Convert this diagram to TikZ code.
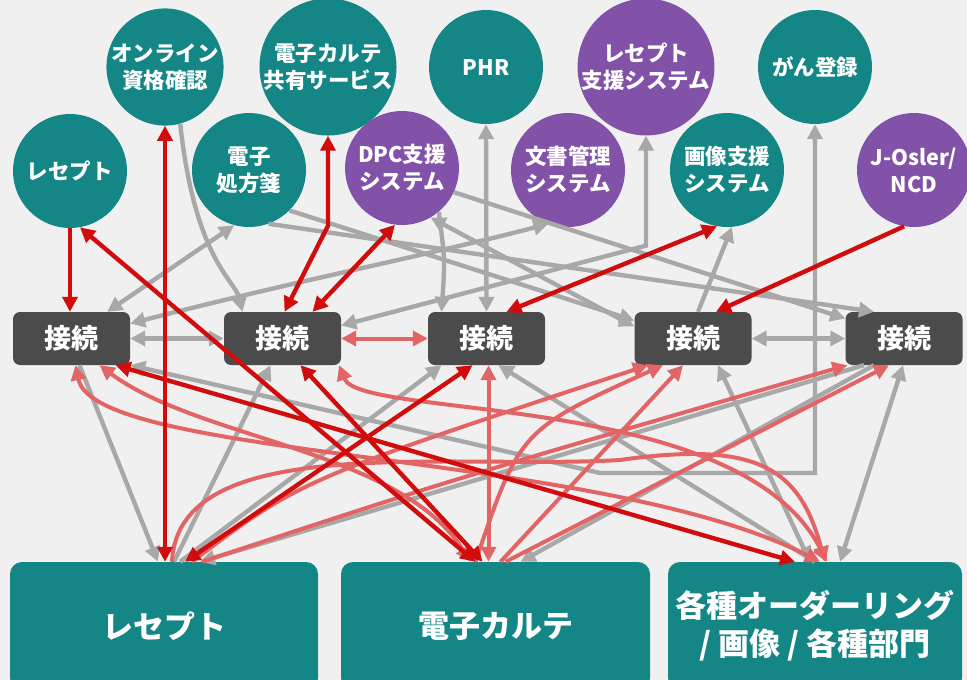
\documentclass[tikz,border=0pt]{standalone}
\usepackage{fontspec}
\setmainfont{Noto Sans CJK JP}
\usetikzlibrary{arrows.meta}
\definecolor{tealc}{RGB}{20,134,134}
\definecolor{purc}{RGB}{130,82,168}
\definecolor{boxc}{RGB}{75,75,75}
\definecolor{bgc}{RGB}{240,240,240}
\definecolor{grayl}{RGB}{168,168,168}
\definecolor{redd}{RGB}{208,12,12}
\definecolor{redl}{RGB}{226,100,100}
\tikzset{
  circ/.style={circle, minimum size=114pt, inner sep=0pt, text=white,
    font=\bfseries\fontsize{21.5}{27}\selectfont, align=center},
  tcirc/.style={circ, fill=tealc},
  pcirc/.style={circ, fill=purc},
  conn/.style={rectangle, rounded corners=7pt, fill=boxc, minimum width=117pt,
    minimum height=53pt, inner sep=0pt, text=white, font=\bfseries\fontsize{27}{30}\selectfont},
  bigbox/.style={rectangle, rounded corners=12pt, fill=tealc, minimum height=128pt,
    inner sep=0pt, text=white, font=\bfseries\fontsize{31}{38}\selectfont, align=center},
  gl/.style={draw=grayl, line width=4.4pt},
  rl/.style={draw=redd, line width=4.4pt},
  ll/.style={draw=redl, line width=4pt},
  >={Triangle[length=15pt,width=15pt]}
}
\begin{document}
\begin{tikzpicture}[x=1pt,y=-1pt]
\useasboundingbox (0,0) rectangle (967,680);
\clip (0,0) rectangle (967,680);
\fill[bgc] (0,0) rectangle (967,680);

% circles
\node[tcirc] (c-rez) at (70,171) {レセプト};
\node[tcirc] (c-onl) at (165,67) {オンライン\\資格確認};
\node[tcirc] (c-rx)  at (249,170) {電子\\処方箋};
\node[tcirc] (c-shr) at (328,67) {電子カルテ\\共有サービス};
\node[pcirc] (c-dpc) at (402,168) {DPC支援\\システム};
\node[tcirc] (c-phr) at (486,67) {PHR};
\node[pcirc] (c-doc) at (568,170) {文書管理\\システム};
\node[pcirc] (c-rzs) at (646,67) {レセプト\\支援システム};
\node[tcirc] (c-img) at (727,170) {画像支援\\システム};
\node[tcirc] (c-can) at (815,67) {がん登録};
\node[pcirc] (c-jos) at (914,170) {J-Osler/\\NCD};

% connection boxes
\node[conn] (k1) at (71.5,338.5) {接続};
\node[conn] (k2) at (282.5,338.5) {接続};
\node[conn] (k3) at (486.5,338.5) {接続};
\node[conn] (k4) at (693,338.5) {接続};
\node[conn] (k5) at (904,338.5) {接続};

% bottom boxes
\node[bigbox, minimum width=308pt] (b1) at (164,626) {レセプト};
\node[bigbox, minimum width=309pt] (b2) at (495.5,626) {電子カルテ};
\node[bigbox, minimum width=294pt] (b3) at (815,626) {各種オーダーリング\\/ 画像 / 各種部門};

% gray connectors
\begin{scope}[gl]
\draw[<->] (c-phr.south) -- (k3.north);
\draw[<->] (k1.east) -- (k2.west);
\draw[<->] (k4.east) -- (k5.west);
\draw[<->] ([xshift=-23pt]k1.north east) -- (c-rx.-105);
\draw[->] (c-onl.-75) .. controls (195,260) and (235,280) .. ([xshift=-40pt]k2.north);
\draw[<->] ([yshift=15pt]k1.east) .. controls (300,280) and (450,250) .. (c-doc.-110);
\draw[<->] (c-rzs.south) -- ([yshift=-110pt]c-rzs.south) -- ([yshift=13pt]k2.east);
\draw[<->] (c-dpc.-60) -- ([yshift=12pt]k4.west);
\draw[<->] (c-can.south) -- (815,473) -- (600,473) -- (k1.south east);
\draw[->] (c-rx.-70) -- ([xshift=-30pt]k5.north);
\draw[->] (c-rx.-45) -- ([yshift=18pt]k4.west);
\draw[->] (c-dpc.-25) -- ([yshift=20pt]k5.west);
\draw[->] ([xshift=8pt]k1.south) -- ([xshift=-6pt]b1.north);
\draw[->] ([xshift=10pt]b1.north) -- ([xshift=-12pt]k2.south);
\draw[->] ([xshift=16pt]b1.north) -- ([xshift=-45pt]k3.south);
\draw[->] ([xshift=-30pt]k5.south) -- ([xshift=25pt]b2.north);
\draw[->] ([xshift=-40pt]k5.south) -- ([xshift=36pt]b1.north);
\draw[<->] ([xshift=25pt]k4.south) -- ([xshift=-5pt]b3.north);
\draw[<->] ([xshift=-1pt]k5.south) -- ([xshift=25pt]b3.north);
\draw[->] (b3.north) -- ([xshift=12pt]k3.south);
\draw[->] (c-dpc.-50) .. controls (445,260) .. ([xshift=-45pt]k3.north);
\draw[->] ([xshift=5pt]k4.north) -- (c-img.-85);
\end{scope}

% light red connectors
\begin{scope}[ll]
\draw[<->] (k2.east) -- (k3.west);
\draw[<->] ([xshift=4pt]k1.south) .. controls (95,460) and (600,450) .. ([xshift=5pt]b3.north);
\draw[<->] ([xshift=28pt]k1.south) .. controls (200,440) and (400,450) .. ([xshift=-25pt]b2.north);
\draw[<->] ([xshift=-2pt]k2.south east) .. controls (360,420) and (740,390) .. ([xshift=12pt]b3.north);
\draw[<->] ([xshift=2pt]k3.south) -- ([xshift=2pt]k3.south |- b2.north);
\draw[->] ([xshift=8pt]b1.north) .. controls (178,430) and (450,470) .. (620,460) .. controls (760,440) and (800,470) .. ([xshift=10pt]b3.north);
\draw[->] ([xshift=28pt]b1.north) .. controls (300,480) .. ([xshift=-45pt]k4.south);
\draw[->] ([xshift=-20pt]b2.north) .. controls (520,430) .. ([xshift=-30pt]k4.south);
\draw[->] ([xshift=5pt]b2.north) -- ([xshift=-10pt]k4.south);
\draw[->] ([xshift=38pt]b1.north) .. controls (450,480) .. ([xshift=2pt]k5.south west);
\draw[->] ([xshift=10pt]b2.north) -- ([xshift=-15pt]k5.south);
\end{scope}

% dark red connectors
\begin{scope}[rl]
\draw[->] (c-rez.south) -- ([xshift=-1.5pt]k1.north);
\draw[<->] (c-onl.south) -- (c-onl.south |- b1.north);
\draw[<->] (c-rez.-80) -- ([xshift=-20pt]b2.north);
\draw[<->] ([xshift=18pt]k2.south) -- ([xshift=-13pt]b2.north);
\draw[<->] ([xshift=44pt]k1.south) -- ([xshift=-20pt]b3.north);
\draw[<->] ([xshift=-14pt]k3.south) -- ([xshift=21pt]b1.north);
\draw[<->] (c-shr.south) -- ([yshift=-90pt]c-shr.south) -- ([xshift=2pt]k2.north);
\draw[<->] (c-dpc.-97) -- ([xshift=30pt]k2.north);
\draw[<->] (c-img.-100) -- ([xshift=20pt]k3.north);
\draw[->] (c-jos.-100) -- ([xshift=23pt]k4.north);
\end{scope}
\end{tikzpicture}
\end{document}
